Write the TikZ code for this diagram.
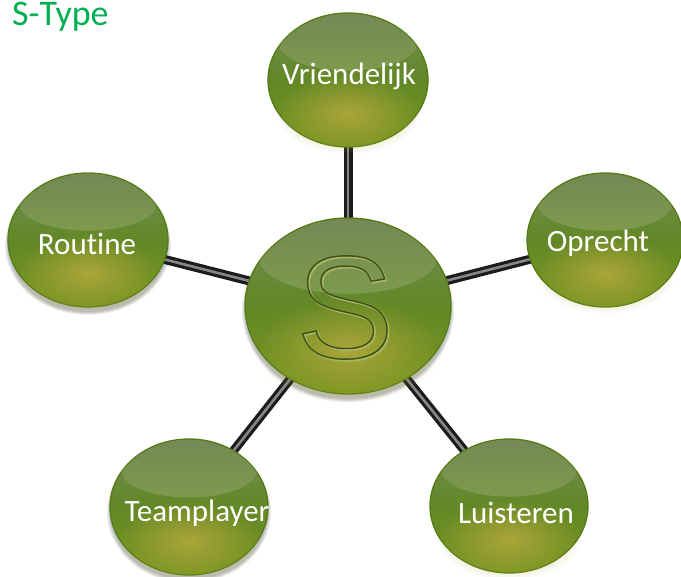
\documentclass[tikz,border=0pt]{standalone}
\usepackage{fontspec}
\setmainfont[Ligatures=NoCommon]{Carlito}
\newfontfamily\bigsfont{Liberation Sans}
\usetikzlibrary{shapes.geometric,fadings,calc}
\definecolor{bubtop}{RGB}{118,138,88}
\definecolor{bubmid}{RGB}{98,136,38}
\definecolor{bubbot}{RGB}{120,150,32}
\definecolor{rimgreen}{RGB}{84,124,20}
\definecolor{glowyel}{RGB}{178,168,60}
\definecolor{stickdark}{RGB}{28,28,28}
\definecolor{stickgray}{RGB}{135,135,135}
\definecolor{titlegreen}{RGB}{0,176,80}
\definecolor{sdark}{RGB}{62,82,24}
\definecolor{slight}{RGB}{168,182,100}
\tikzfading[name=softglow, inner color=transparent!0, outer color=transparent!100]
\tikzset{
  bubble/.style={ellipse, inner sep=0pt, draw=rimgreen, line width=1.3pt,
    top color=bubtop, bottom color=bubbot, middle color=bubmid},
  stick/.style={draw=stickdark, line width=3.2pt, double=stickgray, double distance=2.6pt},
  lbl/.style={text=white, inner sep=0pt, font=\fontsize{31}{32}\selectfont},
  shadowring/.style={fill=black, opacity=0.07},
}
\newcommand\bubshadow[4]{%
  \foreach \s in {0,1,2,3}{\fill[shadowring] ($(#1)+(0,5)$) ellipse ({#2/2+\s} and {#3/2+\s});}
}
\newcommand\bubgloss[3]{%
  \fill[glowyel, opacity=0.9, path fading=softglow] ($(#1.center)+(0,#3*0.25)$) ellipse ({#2*0.45} and {#3*0.3});
  \fill[white, opacity=0.16, path fading=north] ($(#1.center)+(0,-#3*0.27)$) ellipse ({#2*0.43} and {#3*0.2});
}
\begin{document}
\begin{tikzpicture}[x=1pt,y=-1pt]
\useasboundingbox (0,0) rectangle (681,577);
\fill[white] (0,0) rectangle (681,577);
% centres
\coordinate (cS) at (348,306);
\coordinate (cV) at (348,80);
\coordinate (cR) at (88,240);
\coordinate (cO) at (605,240);
\coordinate (cT) at (189,507);
\coordinate (cL) at (509,506);
% shadows
\bubshadow{cS}{206}{176}
\bubshadow{cV}{160}{134}
\bubshadow{cR}{160}{134}
\bubshadow{cO}{156}{134}
\bubshadow{cT}{158}{136}
\bubshadow{cL}{158}{134}
% connectors
\draw[stick] (cS) -- (cV);
\draw[stick] (cS) -- (cR);
\draw[stick] (cS) -- (cO);
\draw[stick] (cS) -- (cT);
\draw[stick] (cS) -- (cL);
% bubbles
\node[bubble, minimum width=206pt, minimum height=176pt] (S) at (cS) {};
\node[bubble, minimum width=160pt, minimum height=134pt] (V) at (cV) {};
\node[bubble, minimum width=160pt, minimum height=134pt] (R) at (cR) {};
\node[bubble, minimum width=156pt, minimum height=134pt] (O) at (cO) {};
\node[bubble, minimum width=158pt, minimum height=136pt] (T) at (cT) {};
\node[bubble, minimum width=158pt, minimum height=134pt] (L) at (cL) {};
\bubgloss{S}{206}{176}
\bubgloss{V}{160}{134}
\bubgloss{R}{160}{134}
\bubgloss{O}{156}{134}
\bubgloss{T}{158}{136}
\bubgloss{L}{158}{134}
% engraved S
\node[inner sep=0pt, text=slight] (Slight) at (346.5,309) {\bigsfont\fontsize{146}{146}\selectfont\special{pdf:code q 1 Tr 1.8 w}S\special{pdf:code Q}};
\node[inner sep=0pt, text=sdark] (Sdark) at (345,307.5) {\bigsfont\fontsize{146}{146}\selectfont\special{pdf:code q 1 Tr 1.4 w}S\special{pdf:code Q}};
% labels
\node[lbl] (tV) at (349,76) {Vriendelijk};
\node[lbl] (tR) at (87,244) {Routine};
\node[lbl] (tO) at (598,243) {Oprecht};
\node[lbl] (tT) at (197,513) {Teamplayer};
\node[lbl] (tL) at (516,513) {Luisteren};
% title
\node[anchor=base west, inner sep=0pt, text=titlegreen, font=\fontsize{36}{37}\selectfont] (title) at (12,26) {S-Type};
\end{tikzpicture}
\end{document}
